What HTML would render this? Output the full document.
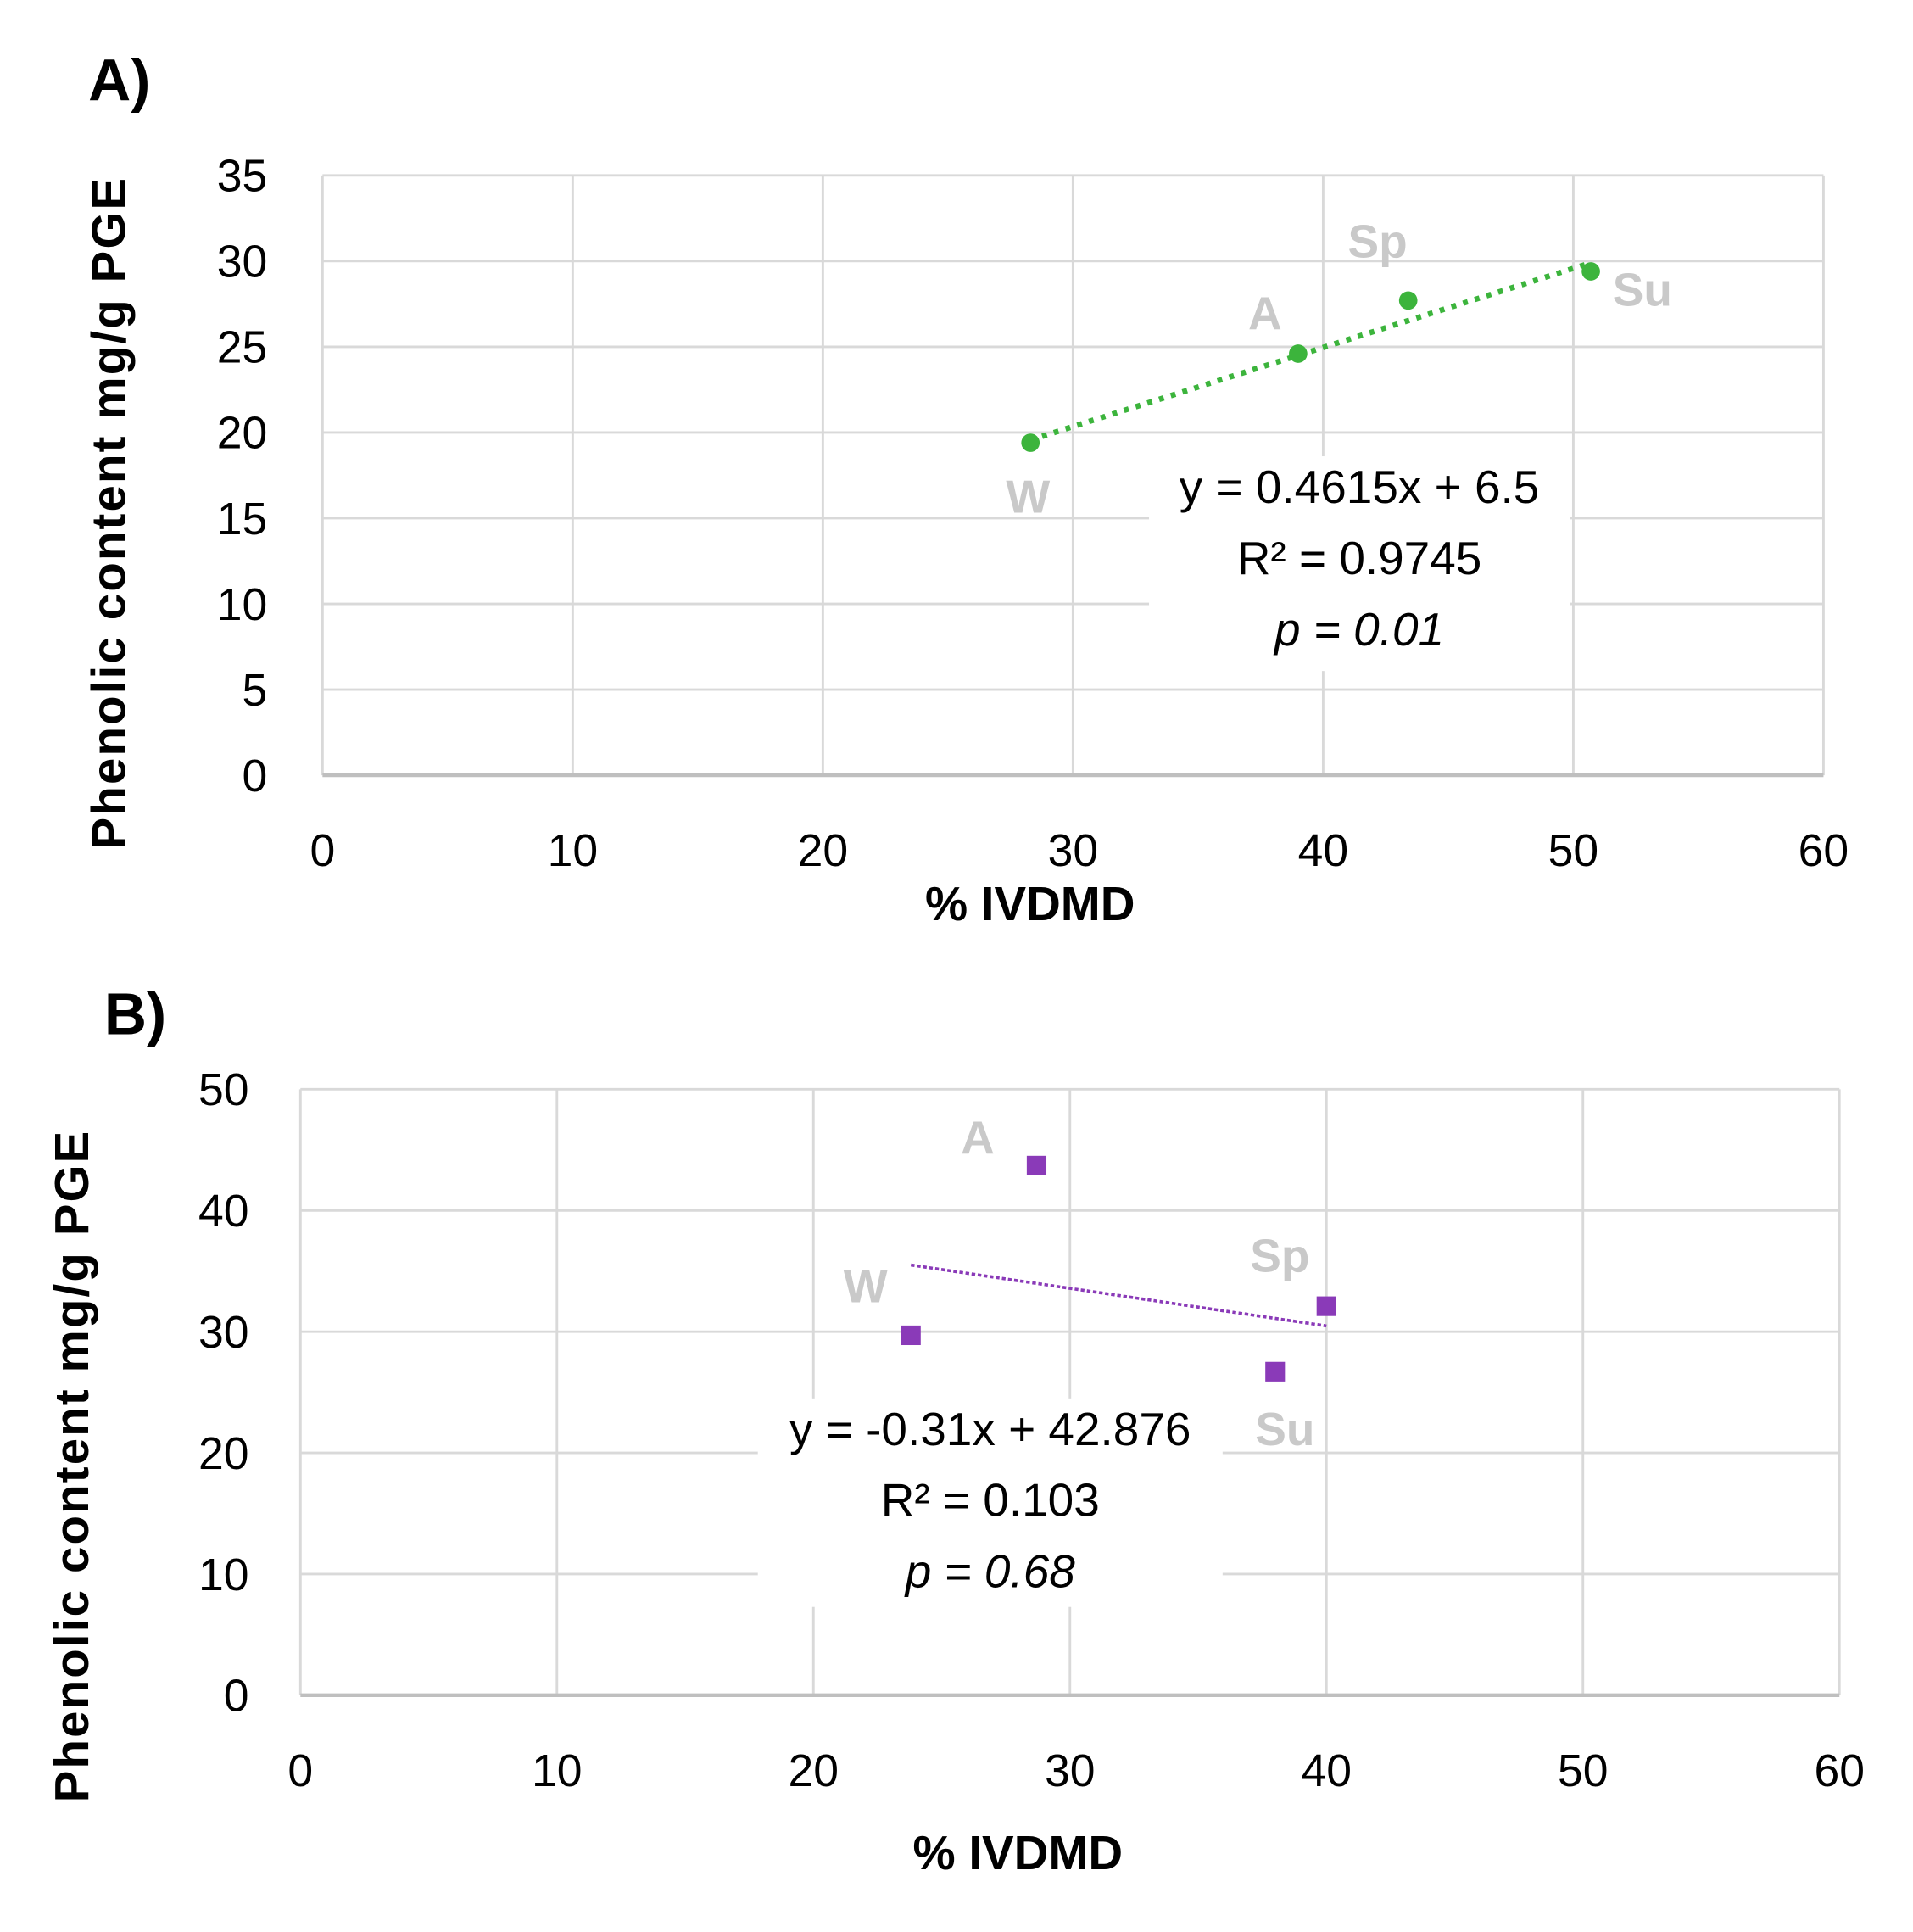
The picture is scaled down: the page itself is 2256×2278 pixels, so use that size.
<!DOCTYPE html>
<html><head><meta charset="utf-8"><style>
html,body{margin:0;padding:0;background:#fff;}
svg{display:block;}
text{font-family:"Liberation Sans",sans-serif;}
</style></head><body>
<svg id="root" width="2256" height="2278" viewBox="0 0 1560 1575" preserveAspectRatio="none" xmlns="http://www.w3.org/2000/svg">
<g id="chartA"></g>
<g id="chartB"></g>
</svg>
<script>
const seasonsA = ["W","A","Sp","Su"];
const xValsA = [28.3, 39.0, 43.4, 50.7];
const yValsA = [19.4, 24.6, 27.7, 29.4];
const yTicksA = [0,5,10,15,20,25,30,35];
const xTicks = [0,10,20,30,40,50,60];
const seasonsB = ["W","A","Sp","Su"];
const xValsB = [23.8, 28.7, 40.0, 38.0];
const yValsB = [29.7, 43.7, 32.1, 26.7];
const yTicksB = [0,10,20,30,40,50];
const trendA = [0.4615, 6.5];
const trendB = [-0.31, 42.876];
const eqA = ["y = 0.4615x + 6.5","R² = 0.9745","p = 0.01"];
const eqB = ["y = -0.31x + 42.876","R² = 0.103","p = 0.68"];

const NS="http://www.w3.org/2000/svg";
function mk(parent,tag,attrs,txt){const e=document.createElementNS(NS,tag);for(const k in attrs)e.setAttribute(k,attrs[k]);if(txt!==undefined)e.textContent=txt;parent.appendChild(e);return e;}

function draw(g,cfg){
  const sx=v=>cfg.L+(v-0)/(60)*(cfg.R-cfg.L);
  const sy=v=>cfg.B-(v)/(cfg.ymax)*(cfg.B-cfg.T);
  let t=mk(g,'text',{x:cfg.panelX,y:cfg.panelY,'font-size':48,'font-weight':'bold',fill:'#000'},cfg.panel);
  
  
  xTicks.forEach(v=>{
    const l=mk(g,'line',{x1:sx(v),x2:sx(v),y1:cfg.T,y2:cfg.B,stroke:'#d9d9d9','stroke-width':2});
    
    
    const tx=mk(g,'text',{x:sx(v),y:cfg.xLabY,'font-size':37,'text-anchor':'middle',fill:'#000'},v);
    
    
  });
  cfg.yTicks.forEach(v=>{
    const l=mk(g,'line',{x1:cfg.L,x2:cfg.R,y1:sy(v),y2:sy(v),stroke:v===0?'#bfbfbf':'#d9d9d9','stroke-width':v===0?3:2});
    
    
    const tx=mk(g,'text',{x:cfg.yLabX,y:sy(v)+13,'font-size':37,'text-anchor':'end',fill:'#000'},v);
    
    
  });
  const bx=mk(g,'rect',{x:cfg.box[0],y:cfg.box[1],width:cfg.box[2],height:cfg.box[3],fill:'#fff'});
  
  
  cfg.eq.forEach((s,i)=>{
    const tx=mk(g,'text',{x:cfg.box[0]+cfg.box[2]/2,y:cfg.box[1]+38+i*58,'font-size':38,'text-anchor':'middle',fill:'#000','font-style':i===2?'italic':'normal'},s);
    
    
  });
  const xs=cfg.xv, x1=Math.min(...xs), x2=Math.max(...xs);
  const tl=mk(g,'line',{x1:sx(x1),y1:sy(cfg.trend[0]*x1+cfg.trend[1]),x2:sx(x2),y2:sy(cfg.trend[0]*x2+cfg.trend[1]),stroke:cfg.color,'stroke-width':cfg.tw,'stroke-dasharray':cfg.dash});
  
  
  cfg.xv.forEach((xv,i)=>{
    const cx=sx(xv), cy=sy(cfg.yv[i]);
    let m;
    if(cfg.square) m=mk(g,'rect',{x:cx-8,y:cy-8,width:16,height:16,fill:cfg.color});
    else m=mk(g,'circle',{cx:cx,cy:cy,r:7.5,fill:cfg.color});
    
    
    const lb=mk(g,'text',{x:cx+cfg.lo[i][0],y:cy+cfg.lo[i][1],'font-size':38,'font-weight':'bold','text-anchor':'middle',fill:'#c9c9c9'},cfg.names[i]);
    
    
  });
  const xt=mk(g,'text',{x:cfg.xTitle[0],y:cfg.xTitle[1],'font-size':39,'font-weight':'bold','text-anchor':'middle',fill:'#000'},'% IVDMD');
  
  
  const yt=mk(g,'text',{x:0,y:0,'font-size':39,'font-weight':'bold','letter-spacing':1.5,'text-anchor':'middle',fill:'#000',transform:`translate(${cfg.yTitle[0]},${cfg.yTitle[1]}) rotate(-90)`},'Phenolic content mg/g PGE');
  
  
}
draw(document.getElementById('chartA'),{L:263,R:1487,T:143,B:632,ymax:35,yTicks:yTicksA,xv:xValsA,yv:yValsA,names:seasonsA,
  trend:trendA,eq:eqA,color:'#3cb43c',tw:4.5,dash:'4 6',square:false,panel:'A)',panelX:72,panelY:82,
  xLabY:706,yLabX:218,box:[937,372,343,175],xTitle:[840,750],yTitle:[102,418],
  lo:[[-2,57],[-27,-20],[-25,-35],[42,28]]});
draw(document.getElementById('chartB'),{L:245,R:1500,T:888,B:1382,ymax:50,yTicks:yTicksB,xv:xValsB,yv:yValsB,names:seasonsB,
  trend:trendB,eq:eqB,color:'#8a3ab8',tw:2.5,dash:'3 2',square:true,panel:'B)',panelX:85,panelY:843,
  xLabY:1456,yLabX:203,box:[618,1140,379,170],xTitle:[830,1524],yTitle:[72,1195],
  lo:[[-37,-27],[-48,-10],[-38,-28],[8,60]]});
</script>
</body></html>
